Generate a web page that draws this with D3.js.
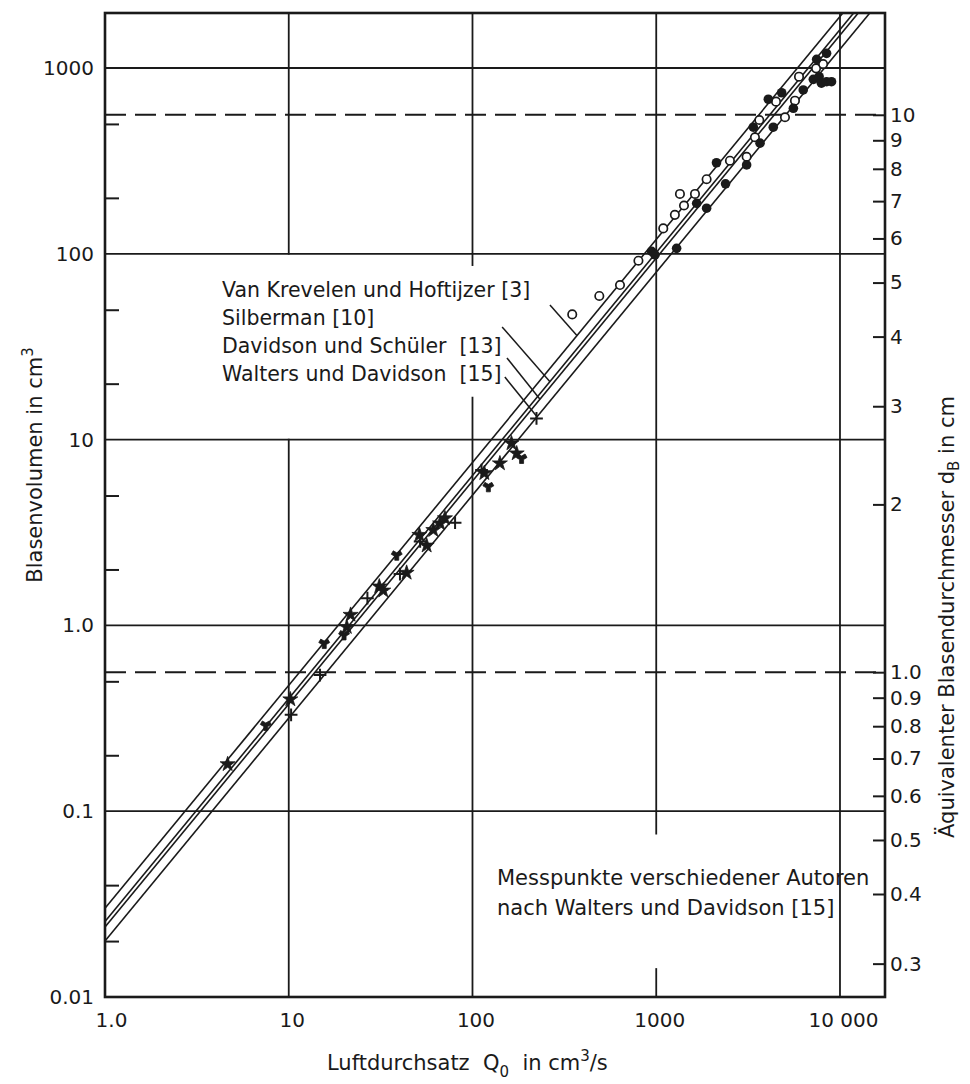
<!DOCTYPE html>
<html>
<head>
<meta charset="utf-8">
<script src="https://cdn.jsdelivr.net/npm/d3@7"></script>
<style>
    html, body { margin: 0; padding: 0; background: #fff; }
    svg text { font-family: "DejaVu Sans", sans-serif; fill: #1a1a1a; }
</style>
</head>
<body>
<div id="chart"></div>
<script>
// Blasenvolumen vs. Luftdurchsatz (log-log)

const xTicks = [1, 10, 100, 1000, 10000];
const xTickLabels = ['1.0', '10', '100', '1000', '10 000'];
const yTicks = [0.01, 0.1, 1, 10, 100, 1000];
const yTickLabels = ['0.01', '0.1', '1.0', '10', '100', '1000'];
const yMinorTicks = [0.02, 0.04, 0.2, 0.5, 2, 5, 20, 50, 200, 500];
const xGrid = [10, 100, 1000, 10000];
const yGrid = [0.1, 1, 10, 100, 1000];

// right axis: equivalent diameter d_B in cm
const dTicks = [0.3, 0.4, 0.5, 0.6, 0.7, 0.8, 0.9, 1, 2, 3, 4, 5, 6, 7, 8, 9, 10];
const dTickLabels = ['0.3', '0.4', '0.5', '0.6', '0.7', '0.8', '0.9', '1.0', '2', '3', '4', '5', '6', '7', '8', '9', '10'];
const dDashed = [1, 10];
const dVolumeFactor = 0.56; // V = f * d^3 as printed on the chart

// correlation lines, V at Q = 1 and Q = 20000
const fitQ = [1, 20000];
const fitVanKrevelen = [0.030, 4350];
const fitSilberman = [0.0255, 3698];
const fitDavidsonSchueler = [0.0238, 3451];
const fitWaltersDavidson = [0.020, 2900];
const fitNames = ['Van Krevelen und Hoftijzer [3]', 'Silberman [10]', 'Davidson und Schüler  [13]', 'Walters und Davidson  [15]'];

// leader lines from legend text to the lines: [Q1, V1, Q2, V2]
const leaders = [
    [264, 53, 370, 36.3],
    [145, 40.4, 264, 20.5],
    [154, 27.5, 233, 16.5],
    [150, 21.7, 224, 13.3]
];

// measured points, small flow rates: [Q, V, marker]
const lowPoints = [
    [4.65, 0.179, 's'], [7.5, 0.29, 'w'], [10.2, 0.40, 's'], [10.3, 0.33, 'p'],
    [14.8, 0.54, 'p'], [15.6, 0.80, 'w'], [20.0, 0.89, 'w'], [20.7, 0.98, 's'],
    [21.7, 1.14, 's'], [26.8, 1.40, 'p'], [31.1, 1.62, 's'], [32.7, 1.54, 's'],
    [38.7, 2.39, 'w'], [40.3, 1.89, 'p'], [43.8, 1.92, 's'], [51.4, 3.07, 's'],
    [51.9, 2.83, 'p'], [56.3, 2.69, 's'], [61.2, 3.26, 's'], [66.6, 3.54, 's'],
    [70.8, 3.77, 's'], [80.4, 3.57, 'p'], [112, 6.86, 'p'], [116, 6.6, 's'],
    [122, 5.58, 'w'], [141, 7.45, 's'], [163, 9.55, 's'], [174, 8.43, 's'],
    [185, 7.93, 'w'], [223, 13.0, 'p']
];

// measured points, large flow rates
const openPoints = [
    [349, 47.2], [490, 59.3], [635, 67.9], [800, 91.8], [1092, 137], [1263, 162],
    [1346, 210], [1416, 182], [1625, 210], [1880, 252], [2518, 317], [3104, 333],
    [3445, 424], [3639, 525], [4486, 659], [5020, 543], [5689, 667], [5984, 898],
    [7413, 996], [8095, 1051]
];
const filledPoints = [
    [944, 103], [984, 98.6], [1291, 107], [1660, 187], [1880, 176], [2128, 309],
    [2384, 238], [3104, 301], [3375, 480], [3672, 394], [4074, 679], [4335, 480],
    [4816, 736], [5576, 607], [6310, 762], [7161, 869], [7464, 1114], [8454, 1199],
    [7700, 898], [7924, 828], [8454, 844], [8995, 844]
];

// grid lines are interrupted behind the text blocks: [Q, V from, V to]
const gridGaps = [[10, 10.1, 99], [100, 17, 86], [1000, 0.0143, 0.075]];

function createChart() {
    const W = 970, H = 1084;
    const margin = { top: 13, right: 85, bottom: 87, left: 105 };
    const width = W - margin.left - margin.right;
    const height = H - margin.top - margin.bottom;
    const ink = '#1a1a1a';

    const root = d3.select('#chart').append('svg')
        .attr('width', W)
        .attr('height', H)
        .style('background', '#fff');

    const svg = root.append('g')
        .attr('transform', `translate(${margin.left},${margin.top})`);

    // Scales
    const x = d3.scaleLog().domain([1, 17580]).range([0, width]);
    const y = d3.scaleLog().domain([0.01, 1977]).range([height, 0]);
    const dToV = d => dVolumeFactor * d * d * d;
    const dScale = d3.scaleLog()
        .domain([0.3, 10])
        .range([y(dToV(0.3)), y(dToV(10))]);

    svg.append('clipPath').attr('id', 'plot-clip')
        .append('rect').attr('width', width).attr('height', height);

    // Grid
    svg.selectAll('.hgrid')
        .data(yGrid)
        .enter()
        .append('line')
        .attr('x1', 0).attr('x2', width)
        .attr('y1', d => y(d)).attr('y2', d => y(d))
        .attr('stroke', ink).attr('stroke-width', 1.8);

    const vSegments = [];
    xGrid.forEach(q => {
        let lo = y.domain()[0];
        gridGaps.filter(g => g[0] === q)
            .sort((a, b) => a[1] - b[1])
            .forEach(g => {
                vSegments.push([q, lo, g[1]]);
                lo = g[2];
            });
        vSegments.push([q, lo, y.domain()[1]]);
    });

    svg.selectAll('.vgrid')
        .data(vSegments)
        .enter()
        .append('line')
        .attr('x1', d => x(d[0])).attr('x2', d => x(d[0]))
        .attr('y1', d => y(d[1])).attr('y2', d => y(d[2]))
        .attr('stroke', ink).attr('stroke-width', 1.8);

    // Dashed reference lines at d_B = 1 cm and 10 cm
    svg.selectAll('.dashed')
        .data(dDashed)
        .enter()
        .append('line')
        .attr('x1', 0).attr('x2', width)
        .attr('y1', d => dScale(d)).attr('y2', d => dScale(d))
        .attr('stroke', ink).attr('stroke-width', 2)
        .attr('stroke-dasharray', '21,9');

    // Frame
    svg.append('rect')
        .attr('width', width).attr('height', height)
        .attr('fill', 'none').attr('stroke', ink).attr('stroke-width', 2.6);

    // Axes
    const left = svg.append('g')
        .call(d3.axisLeft(y).tickValues(yTicks).tickSize(0).tickPadding(11)
            .tickFormat((d, i) => yTickLabels[i]));
    left.select('.domain').remove();
    left.selectAll('text').attr('font-size', '20px').attr('fill', ink)
        .style('font-family', '"DejaVu Sans", sans-serif');

    const minor = svg.append('g')
        .call(d3.axisRight(y).tickValues(yMinorTicks).tickSize(14).tickFormat(''));
    minor.select('.domain').remove();
    minor.selectAll('line').attr('stroke', ink).attr('stroke-width', 2);

    const bottom = svg.append('g')
        .attr('transform', `translate(0,${height})`)
        .call(d3.axisBottom(x).tickValues(xTicks).tickSize(0).tickPadding(16)
            .tickFormat((d, i) => xTickLabels[i]));
    bottom.select('.domain').remove();
    bottom.selectAll('text').attr('font-size', '20px').attr('fill', ink)
        .style('font-family', '"DejaVu Sans", sans-serif')
        .attr('dx', (d, i) => i === 0 ? 6 : 3);

    const right = svg.append('g')
        .attr('transform', `translate(${width},0)`)
        .call(d3.axisRight(dScale).tickValues(dTicks).tickSize(-12).tickPadding(5)
            .tickFormat((d, i) => dTickLabels[i]));
    right.select('.domain').remove();
    right.selectAll('line').attr('stroke', ink).attr('stroke-width', 2);
    right.selectAll('text').attr('font-size', '20px').attr('fill', ink)
        .style('font-family', '"DejaVu Sans", sans-serif');

    // Correlation lines
    const plot = svg.append('g').attr('clip-path', 'url(#plot-clip)');
    const fits = [fitVanKrevelen, fitSilberman, fitDavidsonSchueler, fitWaltersDavidson];
    const line = d3.line().x(d => x(d[0])).y(d => y(d[1]));

    plot.selectAll('.fit')
        .data(fits)
        .enter()
        .append('path')
        .attr('d', v => line(fitQ.map((q, i) => [q, v[i]])))
        .attr('fill', 'none')
        .attr('stroke', ink)
        .attr('stroke-width', 1.6);

    // Leader lines
    svg.selectAll('.leader')
        .data(leaders)
        .enter()
        .append('line')
        .attr('x1', d => x(d[0])).attr('y1', d => y(d[1]))
        .attr('x2', d => x(d[2])).attr('y2', d => y(d[3]))
        .attr('stroke', ink).attr('stroke-width', 1.5);

    // Legend text
    svg.selectAll('.legend')
        .data(fitNames)
        .enter()
        .append('text')
        .attr('x', 117)
        .attr('y', (d, i) => 284 + i * 28)
        .attr('font-size', '20.5px')
        .style('white-space', 'pre')
        .text(d => d);

    // Markers: small flow rates
    const symbolFor = {
        s: d3.symbolStar,
        w: d3.symbolWye,
        p: d3.symbolPlus || d3.symbolCross
    };
    plot.selectAll('.low')
        .data(lowPoints)
        .enter()
        .append('path')
        .attr('transform', d => `translate(${x(d[0])},${y(d[1])})`)
        .attr('d', d => d3.symbol().type(symbolFor[d[2]]).size(d[2] === 's' ? 70 : 55)())
        .attr('fill', d => d[2] === 'p' && d3.symbolPlus ? 'none' : ink)
        .attr('stroke', ink)
        .attr('stroke-width', d => d[2] === 'p' ? 2 : 0.8);

    // Markers: large flow rates
    plot.selectAll('.open')
        .data(openPoints)
        .enter()
        .append('circle')
        .attr('cx', d => x(d[0])).attr('cy', d => y(d[1]))
        .attr('r', 4.2)
        .attr('fill', '#fff')
        .attr('stroke', ink)
        .attr('stroke-width', 1.7);

    plot.selectAll('.filled')
        .data(filledPoints)
        .enter()
        .append('circle')
        .attr('cx', d => x(d[0])).attr('cy', d => y(d[1]))
        .attr('r', 4.8)
        .attr('fill', ink);

    // Annotation
    const note = svg.append('text')
        .attr('x', 392)
        .attr('font-size', '21px');
    note.append('tspan').attr('x', 392).attr('y', 872).text('Messpunkte verschiedener Autoren');
    note.append('tspan').attr('x', 392).attr('y', 902).text('nach Walters und Davidson [15]');

    // Axis titles
    const xTitle = root.append('text')
        .attr('x', 327)
        .attr('y', 1070)
        .attr('font-size', '21px')
        .style('white-space', 'pre');
    xTitle.append('tspan').text('Luftdurchsatz  Q');
    xTitle.append('tspan').attr('dy', 7).attr('font-size', '15px').text('0');
    xTitle.append('tspan').attr('dy', -7).text('  in cm');
    xTitle.append('tspan').attr('dy', -9).attr('font-size', '15px').text('3');
    xTitle.append('tspan').attr('dy', 9).text('/s');

    const yTitle = root.append('text')
        .attr('transform', 'translate(42,465) rotate(-90)')
        .attr('text-anchor', 'middle')
        .attr('font-size', '21px');
    yTitle.append('tspan').text('Blasenvolumen in cm');
    yTitle.append('tspan').attr('dy', -9).attr('font-size', '15px').text('3');

    const rTitle = root.append('text')
        .attr('transform', 'translate(954,617) rotate(-90)')
        .attr('text-anchor', 'middle')
        .attr('font-size', '21px');
    rTitle.append('tspan').text('Äquivalenter Blasendurchmesser d');
    rTitle.append('tspan').attr('dy', 5).attr('font-size', '15px').text('B');
    rTitle.append('tspan').attr('dy', -5).text(' in cm');
}

createChart();
</script>
</body>
</html>
